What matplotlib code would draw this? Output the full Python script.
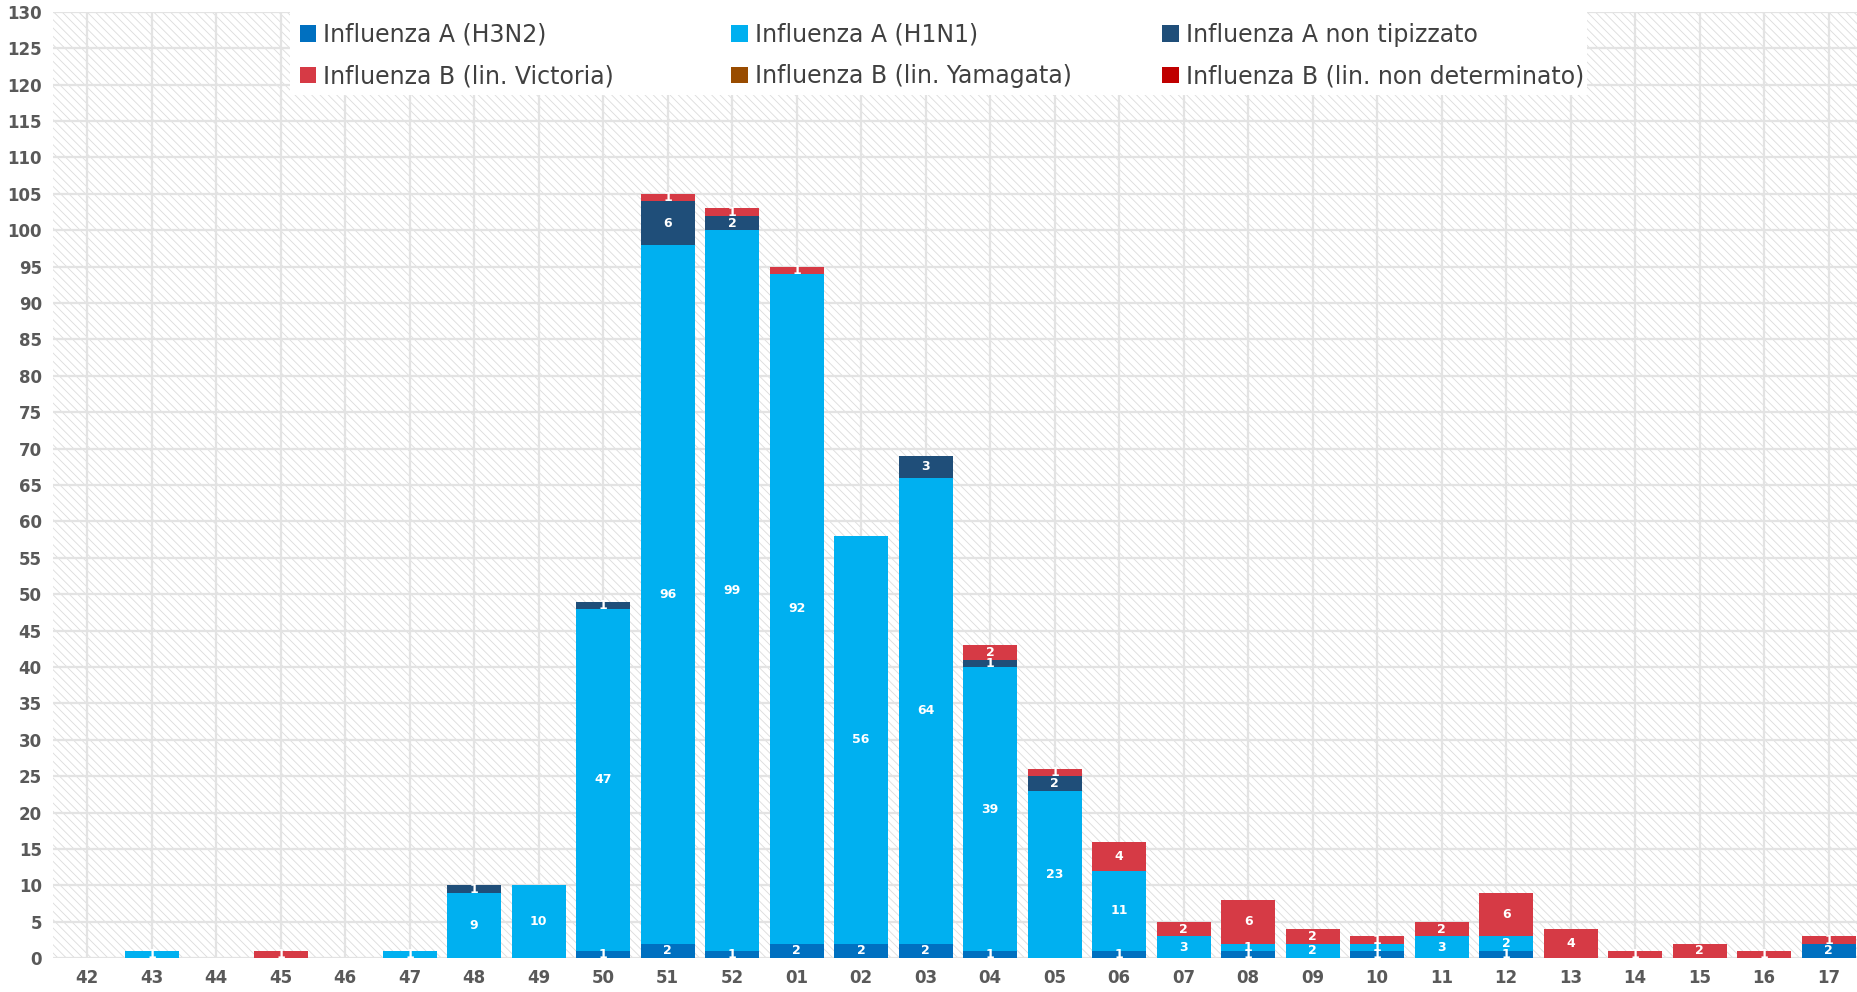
import matplotlib
matplotlib.use("Agg")
import matplotlib.pyplot as plt
from matplotlib.patches import Rectangle
from matplotlib.legend import Legend
import numpy as np

plt.rcParams['font.family'] = ['DejaVu Sans']
plt.rcParams['hatch.linewidth'] = 0.6

weeks = ["42", "43", "44", "45", "46", "47", "48", "49", "50", "51", "52",
         "01", "02", "03", "04", "05", "06", "07", "08", "09", "10", "11",
         "12", "13", "14", "15", "16", "17"]

h3n2 = [0, 0, 0, 0, 0, 0, 0, 0, 1, 2, 1, 2, 2, 2, 1, 0, 1, 0, 1, 0, 1, 0, 1, 0, 0, 0, 0, 2]
h1n1 = [0, 1, 0, 0, 0, 1, 9, 10, 47, 96, 99, 92, 56, 64, 39, 23, 11, 3, 1, 2, 1, 3, 2, 0, 0, 0, 0, 0]
a_nt = [0, 0, 0, 0, 0, 0, 1, 0, 1, 6, 2, 0, 0, 3, 1, 2, 0, 0, 0, 0, 0, 0, 0, 0, 0, 0, 0, 0]
b_vic = [0, 0, 0, 1, 0, 0, 0, 0, 0, 1, 1, 1, 0, 0, 2, 1, 4, 2, 6, 2, 1, 2, 6, 4, 1, 2, 1, 1]
b_yam = [0] * 28
b_nd = [0] * 28

series = [
    ("Influenza A (H3N2)", h3n2, "#0070C0"),
    ("Influenza A (H1N1)", h1n1, "#00B0F0"),
    ("Influenza A non tipizzato", a_nt, "#1F4E79"),
    ("Influenza B (lin. Victoria)", b_vic, "#D63A45"),
    ("Influenza B (lin. Yamagata)", b_yam, "#994C00"),
    ("Influenza B (lin. non determinato)", b_nd, "#C00000"),
]

fig = plt.figure(figsize=(18.57, 9.92), dpi=100)
ax = fig.add_axes([0.0285, 0.034, 0.9715, 0.954])

# hatched background
bg = Rectangle((0, 0), 1, 1, transform=ax.transAxes, facecolor="white",
               edgecolor="#dcdcdc", hatch="\\\\\\\\", lw=0, zorder=0)
ax.add_patch(bg)

x = np.arange(len(weeks))
bottom = np.zeros(len(weeks))
handles = []
for label, vals, color in series:
    vals = np.array(vals, dtype=float)
    bars = ax.bar(x, vals, 0.84, bottom=bottom, color=color, label=label,
                  zorder=3, linewidth=0)
    handles.append(bars)
    for xi, v, b in zip(x, vals, bottom):
        if v > 0:
            ax.text(xi, b + v / 2, str(int(v)), ha="center", va="center",
                    color="white", fontsize=9, fontweight="bold", zorder=4)
    bottom += vals

ax.set_xlim(-0.53, 27.44)
ax.set_ylim(0, 130)
ax.set_yticks(range(0, 131, 5))
ax.set_xticks(x)
ax.set_xticklabels(weeks)
ax.grid(True, color="#e3e3e3", linewidth=1.6, zorder=1)
ax.set_axisbelow(True)
for s in ax.spines.values():
    s.set_visible(False)
ax.tick_params(length=0, labelsize=12, labelcolor="#595959", pad=8)
for t in ax.get_xticklabels() + ax.get_yticklabels():
    t.set_fontweight("bold")

# legend: white box, three equally spaced columns filled row by row
ax.add_patch(Rectangle((0.1314, 0.9123), 0.719, 0.0877, transform=ax.transAxes,
                       facecolor="white", lw=0, zorder=4.5))
col_x = [0.131, 0.370, 0.609]
for c in range(3):
    idx = [c, c + 3]
    leg = Legend(ax, [handles[i] for i in idx], [series[i][0] for i in idx],
                 loc="upper left", bbox_to_anchor=(col_x[c], 1.0),
                 borderaxespad=0, fontsize=17, frameon=False,
                 handlelength=0.7, handleheight=0.7, handletextpad=0.3,
                 labelspacing=0.75, borderpad=0.45)
    for t in leg.get_texts():
        t.set_color("#404040")
    leg.set_zorder(5)
    ax.add_artist(leg)

fig.savefig("out.png", dpi=100)
